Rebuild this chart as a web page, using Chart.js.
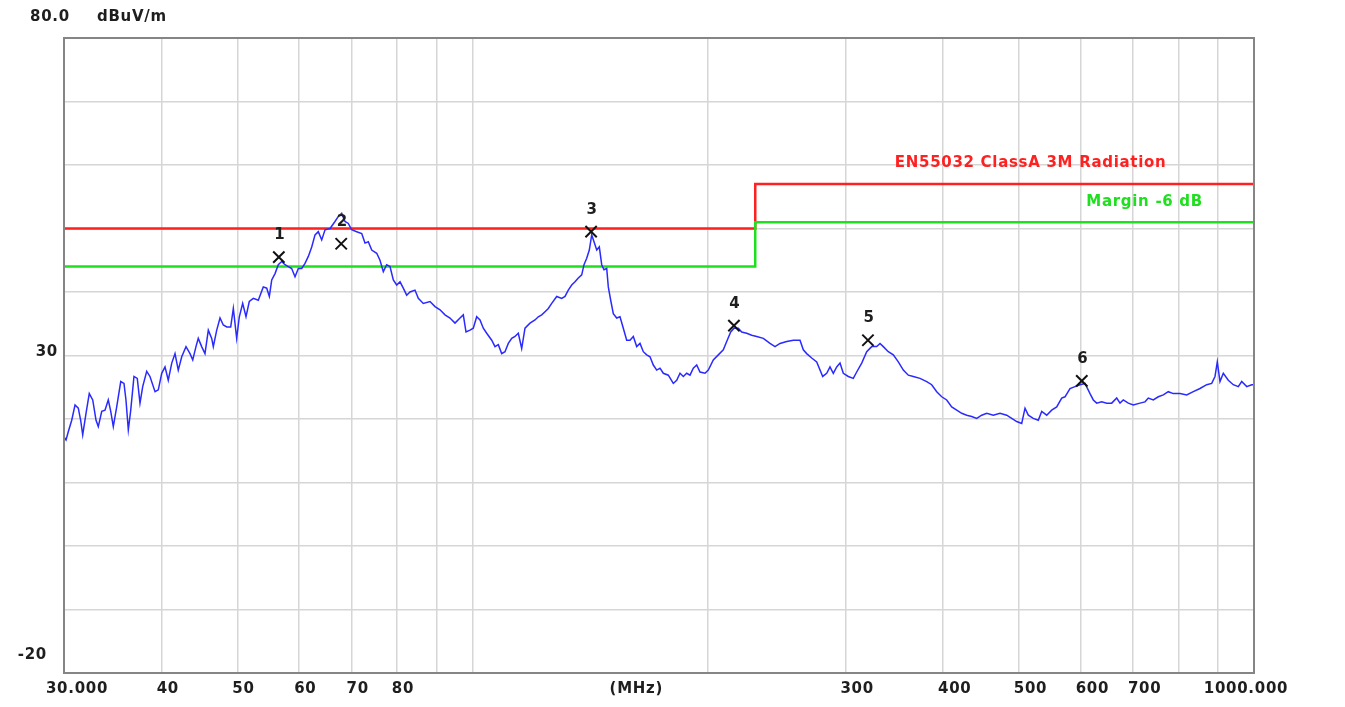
<!DOCTYPE html>
<html>
<head>
<meta charset="utf-8">
<title>Radiated emission 30-1000 MHz</title>
<script src="https://cdn.jsdelivr.net/npm/chart.js@4.4.0/dist/chart.umd.min.js"></script>
<style>
  html, body { margin: 0; padding: 0; background: #fff; }
  #wrap { position: relative; width: 1345px; height: 707px; }
</style>
</head>
<body>
<div id="wrap"><canvas id="emc"></canvas></div>
<script>
// measured trace (MHz / dBuV/m)
const freqMHz = [
  30, 30.18, 30.38, 30.69, 30.99, 31.29, 31.51, 31.70, 32.01, 32.32,
  32.65, 32.97, 33.19, 33.53, 33.85, 34.18, 34.43, 34.69, 35.04, 35.46,
  35.80, 36.01, 36.26, 36.52, 36.87, 37.23, 37.53, 37.83, 38.28, 38.65,
  39.23, 39.61, 40.01, 40.40, 40.79, 41.21, 41.61, 42.01, 42.44, 42.98,
  43.49, 43.84, 44.26, 44.56, 45.01, 45.45, 45.90, 46.36, 46.58, 47.05,
  47.51, 47.97, 48.46, 49.03, 49.41, 49.90, 50.29, 50.79, 51.29, 51.79,
  52.41, 53.18, 53.97, 54.52, 54.94, 55.33, 55.87, 56.41, 56.98, 57.54,
  58.10, 58.68, 59.26, 59.84, 60.44, 61.03, 61.63, 62.25, 62.86, 63.47,
  64.11, 64.74, 65.70, 66.67, 67.32, 68.00, 68.66, 69.34, 70.03, 71.07,
  72.13, 72.83, 73.54, 74.29, 75.39, 76.12, 76.87, 77.64, 78.40, 79.17,
  79.96, 80.75, 81.53, 82.35, 83.16, 84.39, 85.22, 86.48, 88.21, 89.52,
  90.85, 92.19, 93.56, 94.95, 96.36, 97.30, 98.08, 99.24, 100.21, 101.22,
  102.21, 103.21, 104.25, 105.80, 106.83, 107.87, 108.96, 110.02, 111.10, 112.22,
  113.31, 114.42, 115.57, 116.70, 118.43, 120.19, 121.37, 122.59, 123.79, 125.0,
  126.26, 128.13, 130.03, 131.30, 132.58, 133.92, 135.23, 136.55, 137.93, 138.86,
  139.97, 141.05, 142.05, 143.02, 144.16, 145.27, 146.30, 147.29, 148.47, 149.17,
  150.23, 151.38, 152.91, 154.40, 155.91, 157.48, 159.02, 160.58, 162.19, 163.78,
  165.38, 167.04, 168.68, 170.32, 172.04, 173.72, 175.42, 178.02, 180.66, 182.48,
  184.27, 186.07, 187.94, 189.78, 191.63, 193.56, 195.45, 198.35, 200.29, 203.26,
  206.28, 209.34, 211.45, 213.96, 216.05, 218.80, 221.01, 224.29, 227.62, 231.0,
  235.53, 240.23, 243.79, 247.41, 252.34, 257.30, 262.43, 264.99, 267.66, 271.63,
  275.67, 280.58, 283.91, 286.68, 289.48, 292.40, 295.26, 298.14, 302.57, 307.06,
  310.15, 314.75, 319.43, 324.17, 328.98, 332.20, 335.44, 340.42, 345.47, 350.60,
  355.81, 361.09, 366.44, 373.75, 381.20, 386.86, 392.61, 398.43, 404.35, 410.35,
  416.44, 422.62, 428.89, 435.26, 441.72, 448.28, 454.93, 463.86, 473.11, 482.54,
  489.71, 496.98, 504.35, 509.29, 514.26, 521.88, 529.62, 534.96, 542.89, 550.95,
  559.13, 567.43, 572.97, 581.48, 590.11, 598.87, 607.76, 616.78, 622.81, 629.08,
  638.41, 647.89, 657.51, 667.27, 673.79, 680.38, 690.48, 700.72, 714.69, 725.30,
  732.39, 743.26, 754.29, 765.49, 776.84, 788.37, 804.10, 820.13, 836.23, 852.90,
  869.90, 882.82, 891.44, 897.50, 904.67, 913.52, 927.07, 940.82, 954.79, 964.42,
  978.73, 993.25, 1000
];
const levelDb = [
  17.2, 16.7, 18.0, 19.8, 22.2, 21.7, 19.8, 17.5, 20.9, 24.0,
  23.0, 19.8, 18.8, 21.2, 21.4, 23.0, 21.2, 18.8, 21.9, 25.9,
  25.6, 23.0, 18.3, 21.4, 26.7, 26.4, 22.5, 25.1, 27.5, 26.7,
  24.3, 24.6, 27.2, 28.2, 26.1, 28.8, 30.3, 27.7, 29.8, 31.4,
  30.3, 29.3, 31.4, 32.7, 31.4, 30.3, 34.0, 32.7, 31.4, 34.0,
  35.9, 34.8, 34.5, 34.5, 37.4, 32.7, 36.1, 38.2, 36.1, 38.5,
  39.0, 38.7, 40.8, 40.6, 39.3, 41.9, 42.9, 44.3, 44.8, 44.3,
  44.0, 43.7, 42.4, 43.7, 43.7, 44.5, 45.6, 47.1, 49.0, 49.5,
  48.2, 49.8, 50.0, 51.1, 51.9, 52.4, 51.1, 50.8, 49.8, 49.5,
  49.2, 47.7, 47.9, 46.6, 46.1, 45.0, 43.2, 44.3, 44.0, 41.9,
  41.1, 41.6, 40.6, 39.5, 40.0, 40.3, 39.0, 38.2, 38.5, 37.7,
  37.2, 36.4, 35.9, 35.1, 35.9, 36.4, 33.7, 34.0, 34.3, 36.1,
  35.6, 34.3, 33.5, 32.4, 31.4, 31.7, 30.3, 30.6, 31.9, 32.7,
  33.0, 33.5, 31.1, 34.3, 35.1, 35.6, 36.1, 36.4, 36.9, 37.4,
  38.2, 39.3, 39.0, 39.3, 40.3, 41.1, 41.6, 42.2, 42.7, 44.3,
  45.3, 46.6, 49.0, 47.9, 46.6, 47.1, 44.3, 43.5, 43.7, 40.8,
  38.7, 36.6, 35.9, 36.1, 34.3, 32.4, 32.4, 33.0, 31.4, 31.9,
  30.6, 30.1, 29.8, 28.5, 27.7, 28.0, 27.2, 26.9, 25.6, 26.1,
  27.2, 26.7, 27.2, 26.9, 28.0, 28.5, 27.4, 27.2, 27.7, 29.3,
  30.1, 30.9, 32.2, 33.7, 34.3, 34.3, 33.7, 33.5, 33.2, 33.0,
  32.7, 31.9, 31.4, 31.9, 32.2, 32.4, 32.4, 30.9, 30.3, 29.6,
  29.0, 26.7, 27.2, 28.2, 27.2, 28.2, 28.8, 27.2, 26.7, 26.4,
  27.4, 28.8, 30.6, 31.4, 31.4, 31.9, 31.4, 30.6, 30.1, 29.0,
  27.7, 26.9, 26.7, 26.4, 25.9, 25.4, 24.3, 23.5, 23.0, 21.9,
  21.4, 20.9, 20.6, 20.4, 20.1, 20.6, 20.9, 20.6, 20.9, 20.6,
  20.1, 19.6, 19.3, 21.7, 20.6, 20.1, 19.8, 21.2, 20.6, 21.4,
  21.9, 23.3, 23.5, 24.8, 25.1, 25.4, 25.6, 24.0, 23.0, 22.5,
  22.7, 22.5, 22.5, 23.3, 22.5, 23.0, 22.5, 22.2, 22.5, 22.7,
  23.3, 23.0, 23.5, 23.8, 24.3, 24.0, 24.0, 23.8, 24.3, 24.8,
  25.4, 25.6, 26.7, 29.0, 25.9, 27.2, 26.1, 25.4, 25.1, 25.9,
  25.1, 25.4, 25.4
];

// EN55032 class A 3m limit and -6 dB margin
const limitFreq = [30, 230, 230, 1000];
const limitLevel = [50, 50, 57, 57];
const marginLevel = [44, 44, 51, 51];

// peak markers
const markerFreq = [56.5, 67.9, 141.8, 216.0, 320.6, 602.0];
const markerLevel = [45.5, 47.6, 49.5, 34.7, 32.4, 26.0];
const markerNames = ['1', '2', '3', '4', '5', '6'];

// axis ticks / labels
const xGrid = [30, 40, 50, 60, 70, 80, 90, 100, 200, 300, 400, 500, 600, 700, 800, 900, 1000];
const xLabelValues = [30, 40, 50, 60, 70, 80, 300, 400, 500, 600, 700, 1000];
const xLabelText = ['30.000', '40', '50', '60', '70', '80', '300', '400', '500', '600', '700', '1000.000'];
const yLabelValues = [80, 30, -20];
const yLabelText = ['80.0', '30', '-20'];

const toXY = (xs, ys) => xs.map((f, i) => ({ x: f, y: ys[i] }));

const FONT = 'bold 15px "DejaVu Sans"';
const TEXT = '#1e1e1e';

const emcText = {
  id: 'emcText',
  afterDatasetsDraw(chart) {
    const { ctx, chartArea: a, scales: { x, y } } = chart;
    ctx.save();

    // plot frame
    ctx.strokeStyle = '#858585';
    ctx.lineWidth = 2;
    ctx.strokeRect(a.left, a.top, a.right - a.left, a.bottom - a.top);

    ctx.font = FONT;
    ctx.letterSpacing = '0.7px';
    ctx.textBaseline = 'middle';
    ctx.fillStyle = TEXT;

    // y labels
    const top = y.getPixelForValue(80);
    ctx.textAlign = 'left';
    ctx.fillText(yLabelText[0], a.left - 34, top - 21);
    ctx.fillText('dBuV/m', a.left + 33, top - 21);
    ctx.textAlign = 'right';
    ctx.fillText(yLabelText[1], a.left - 6, y.getPixelForValue(yLabelValues[1]) - 3);
    ctx.fillText(yLabelText[2], a.left - 17, y.getPixelForValue(yLabelValues[2]) - 18);

    // x labels
    const ly = a.bottom + 16;
    xLabelValues.forEach((v, i) => {
      const px = x.getPixelForValue(v);
      if (i === 0) {
        ctx.textAlign = 'center';
        ctx.fillText(xLabelText[i], px + 13, ly);
      } else if (i === xLabelValues.length - 1) {
        ctx.textAlign = 'center';
        ctx.fillText(xLabelText[i], px - 8, ly);
      } else {
        ctx.textAlign = 'left';
        ctx.fillText(xLabelText[i], px - 5, ly);
      }
    });
    ctx.textAlign = 'center';
    ctx.fillText('(MHz)', x.getPixelForValue(162), ly);

    // marker numbers
    markerFreq.forEach((f, i) => {
      ctx.fillText(markerNames[i], x.getPixelForValue(f) + 1, y.getPixelForValue(markerLevel[i]) - 22);
    });

    // limit captions
    ctx.textAlign = 'left';
    ctx.fillStyle = '#ff2020';
    ctx.fillText('EN55032 ClassA 3M Radiation', x.getPixelForValue(347), y.getPixelForValue(limitLevel[3]) - 21);
    ctx.fillStyle = '#1ee01e';
    ctx.fillText('Margin -6 dB', x.getPixelForValue(610), y.getPixelForValue(marginLevel[3]) - 20);

    ctx.restore();
  }
};

new Chart(document.getElementById('emc').getContext('2d'), {
  type: 'line',
  data: {
    datasets: [
      {
        label: 'Peaks',
        type: 'scatter',
        data: toXY(markerFreq, markerLevel),
        pointStyle: 'crossRot',
        pointRadius: 8,
        pointBorderColor: '#111',
        pointBorderWidth: 2,
        showLine: false,
        order: 0
      },
      {
        label: 'Level',
        data: toXY(freqMHz, levelDb),
        borderColor: '#2a2aff',
        borderWidth: 1.5,
        pointRadius: 0,
        tension: 0,
        order: 1
      },
      {
        label: 'Margin -6 dB',
        data: toXY(limitFreq, marginLevel),
        borderColor: '#1ee01e',
        borderWidth: 2.5,
        pointRadius: 0,
        order: 2
      },
      {
        label: 'EN55032 ClassA 3M Radiation',
        data: toXY(limitFreq, limitLevel),
        borderColor: '#ff2020',
        borderWidth: 2.5,
        pointRadius: 0,
        order: 3
      }
    ]
  },
  options: {
    responsive: true,
    maintainAspectRatio: false,
    animation: false,
    devicePixelRatio: 1,
    layout: { padding: { left: 64, top: 38, right: 91, bottom: 34 } },
    plugins: {
      legend: { display: false },
      tooltip: { enabled: false }
    },
    scales: {
      x: {
        type: 'logarithmic',
        min: 30,
        max: 1000,
        afterBuildTicks: (scale) => { scale.ticks = xGrid.map(v => ({ value: v })); },
        ticks: { display: false },
        grid: { color: '#d6d6d6', lineWidth: 1.5, drawTicks: false },
        border: { display: false }
      },
      y: {
        type: 'linear',
        min: -20,
        max: 80,
        ticks: { display: false, stepSize: 10 },
        grid: { color: '#d6d6d6', lineWidth: 1.5, drawTicks: false },
        border: { display: false }
      }
    }
  },
  plugins: [emcText]
});
</script>
</body>
</html>
